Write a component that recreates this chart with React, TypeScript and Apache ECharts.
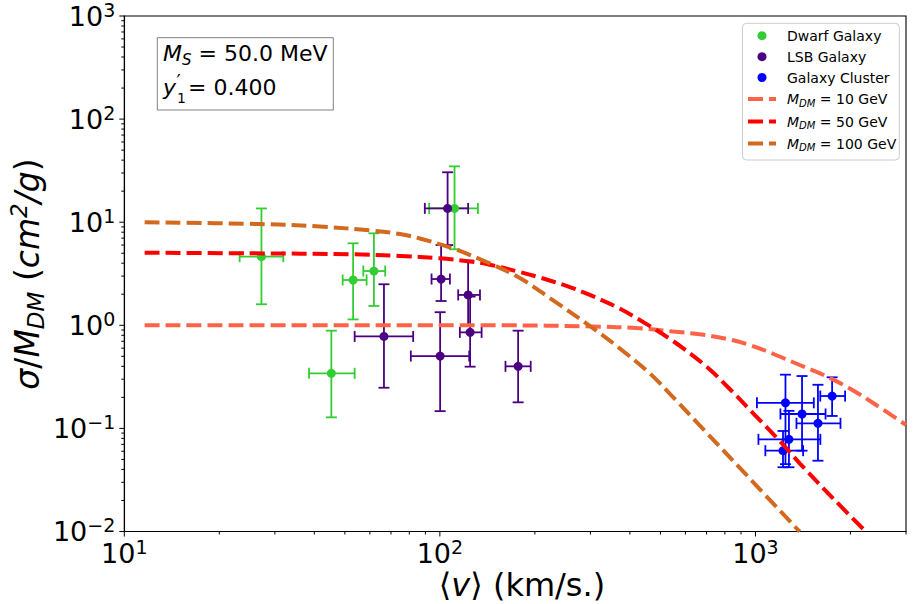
import React, { useEffect, useRef } from "react";
import * as echarts from "echarts";

// ---------- data ----------
const dwarfX = [27.2, 53.1, 61.8, 45.3, 111.3];
const dwarfY = [4.63, 2.75, 3.36, 0.342, 13.6];
const dwarfXLo = [23.2, 49.2, 57.2, 38.5, 92.5];
const dwarfXHi = [31.9, 58.6, 67.1, 53.7, 132];
const dwarfYLo = [1.6, 1.14, 1.54, 0.128, 5.46];
const dwarfYHi = [13.6, 6.24, 7.8, 0.887, 34.8];

const lsbX = [105.8, 100.9, 122.9, 124.7, 66.5, 100.2, 177];
const lsbY = [13.6, 2.81, 1.97, 0.854, 0.78, 0.503, 0.4];
const lsbXLo = [89.6, 94.1, 114.3, 115.7, 53.7, 80.9, 161.4];
const lsbXHi = [122.9, 107.6, 134, 135.6, 82.3, 123.9, 194];
const lsbYLo = [6.0, 1.72, 1.0, 0.397, 0.248, 0.147, 0.179];
const lsbYHi = [30.5, 6.0, 4.24, 1.9, 2.5, 1.34, 0.887];

const clusterX = [1245, 1405, 1578, 1750, 1277, 1223];
const clusterY = [0.177, 0.138, 0.112, 0.206, 0.0783, 0.0608];
const clusterXLo = [1011, 1200, 1349, 1605, 1022, 1075];
const clusterXHi = [1531, 1668, 1860, 1924, 1606, 1416];
const clusterYLo = [0.045, 0.0608, 0.0486, 0.132, 0.042, 0.042];
const clusterYHi = [0.332, 0.322, 0.265, 0.313, 0.148, 0.0944];

const m10X = [11.6, 100, 155, 305, 430, 547, 666, 800, 959, 1151, 1381, 1658, 1990, 2387, 3000];
const m10Y = [1.0, 1.0, 1.0, 0.974, 0.935, 0.871, 0.818, 0.745, 0.644, 0.521, 0.412, 0.326, 0.244, 0.1725, 0.108];

const m50X = [11.6, 25.0, 53.0, 74.7, 100, 124.5, 140.6, 179.2, 207.4, 252, 298.7, 363, 430, 548, 700, 829, 982, 1194, 1381, 1761, 2236];
const m50Y = [5.06, 4.99, 4.88, 4.7, 4.47, 4.16, 3.93, 3.29, 2.91, 2.41, 1.97, 1.505, 1.126, 0.704, 0.397, 0.241, 0.141, 0.0755, 0.0459, 0.021, 0.01];

const m100X = [11.6, 26.9, 41.7, 61.4, 74.7, 86.4, 110, 140.6, 179.2, 223, 306, 371.7, 463, 555, 666, 959, 1381];
const m100Y = [10.0, 9.6, 9.08, 8.27, 7.68, 6.95, 5.56, 4.11, 2.88, 1.84, 0.935, 0.596, 0.341, 0.193, 0.1067, 0.0327, 0.00995];

const xMin = 10;
const xMax = 3000;
const yMin = 0.01;
const yMax = 1000;
const xMajorTicks = [10, 100, 1000];
const xMinorTicks = [20, 30, 40, 50, 60, 70, 80, 90, 200, 300, 400, 500, 600, 700, 800, 900, 2000, 3000];
const yMajorTicks = [0.01, 0.1, 1, 10, 100, 1000];
const yDecades = [0.01, 0.1, 1, 10, 100];
const minorMultipliers = [2, 3, 4, 5, 6, 7, 8, 9];

const legendNames = ["Dwarf Galaxy", "LSB Galaxy", "Galaxy Cluster"];
const curveMasses = ["10", "50", "100"];

// ---------- styles ----------
const FONT = "DejaVu Sans";
const C_DWARF = "#32CD32";
const C_LSB = "#4B0082";
const C_CLUSTER = "#0000FF";
const C_M10 = "#FF6347";
const C_M50 = "#FF0000";
const C_M100 = "#D2691E";

const rowsOf = (x: number[], y: number[], xl: number[], xh: number[], yl: number[], yh: number[]) =>
  x.map((v, i) => [v, y[i], xl[i], xh[i], yl[i], yh[i]]);
const pairs = (x: number[], y: number[]) => x.map((v, i) => [v, y[i]]);

const errRender = (color: string) => (params: any, api: any) => {
  const x = api.value(0);
  const y = api.value(1);
  const a = api.coord([api.value(2), y]);
  const b = api.coord([api.value(3), y]);
  const d = api.coord([x, api.value(4)]);
  const e = api.coord([x, api.value(5)]);
  const cap = 5.5;
  const st = { stroke: color, lineWidth: 1.8 };
  const ln = (x1: number, y1: number, x2: number, y2: number) => ({
    type: "line",
    shape: { x1, y1, x2, y2 },
    style: st,
  });
  return {
    type: "group",
    children: [
      ln(a[0], a[1], b[0], b[1]),
      ln(d[0], d[1], e[0], e[1]),
      ln(a[0], a[1] - cap, a[0], a[1] + cap),
      ln(b[0], b[1] - cap, b[0], b[1] + cap),
      ln(d[0] - cap, d[1], d[0] + cap, d[1]),
      ln(e[0] - cap, e[1], e[0] + cap, e[1]),
    ],
  };
};

const supTxt = (e: number) => (e < 0 ? "\u2212" + Math.abs(e) : String(e));
const powFormatter = (v: number) => {
  const l = Math.log10(v);
  const e = Math.round(l);
  if (Math.abs(l - e) > 1e-6) return "";
  return `{b|10}{s|${supTxt(e)}}`;
};
const tickRich = {
  b: { fontSize: 27, lineHeight: 32, fontFamily: FONT, color: "#000" },
  s: { fontSize: 19, lineHeight: 22, verticalAlign: "top", fontFamily: FONT, color: "#000" },
};

export default function App() {
  const ref = useRef<HTMLDivElement>(null);
  useEffect(() => {
    if (!ref.current) return;
    const chart = echarts.init(ref.current, null, { renderer: "svg" });

    const xTickData = [
      ...xMajorTicks.map((v) => [v, yMin, 5]),
      ...xMinorTicks.map((v) => [v, yMin, 3]),
    ];
    const yMinorTicks: number[] = [];
    yDecades.forEach((d) => minorMultipliers.forEach((m) => yMinorTicks.push(d * m)));
    const yTickData = [
      ...yMajorTicks.map((v) => [xMin, v, 5]),
      ...yMinorTicks.map((v) => [xMin, v, 3]),
    ];

    const lineSeries = (name: string, x: number[], y: number[], color: string) => ({
      type: "line",
      name,
      data: pairs(x, y),
      showSymbol: false,
      symbol: "none",
      smooth: 0.35,
      z: 4,
      lineStyle: { color, width: 4, type: [15, 6], cap: "butt" },
    });

    const legendRowsY = [35.7, 56.7, 77.5, 99, 121.5, 143.5];
    const legendColorsDot = [C_DWARF, C_LSB, C_CLUSTER];
    const legendColorsLine = [C_M10, C_M50, C_M100];
    const legendChildren: any[] = [
      {
        type: "rect",
        shape: { x: 742.5, y: 23.3, width: 156.8, height: 136.7, r: 4 },
        style: { fill: "rgba(255,255,255,0.8)", stroke: "#cccccc", lineWidth: 1 },
      },
    ];
    legendNames.forEach((n, i) => {
      legendChildren.push({
        type: "circle",
        shape: { cx: 762, cy: legendRowsY[i], r: 4.5 },
        style: { fill: legendColorsDot[i] },
      });
      legendChildren.push({
        type: "text",
        x: 787,
        y: legendRowsY[i],
        style: { text: n, fontFamily: FONT, fontSize: 14, fill: "#000", verticalAlign: "middle", align: "left" },
      });
    });
    curveMasses.forEach((m, i) => {
      const yy = legendRowsY[3 + i];
      legendChildren.push({
        type: "line",
        shape: { x1: 748, y1: yy, x2: 776, y2: yy },
        style: { stroke: legendColorsLine[i], lineWidth: 4, lineDash: [15, 6] },
      });
      legendChildren.push({
        type: "text",
        x: 787,
        y: yy,
        style: {
          text: `{i|M}{sub|DM}{r| = ${m} GeV}`,
          verticalAlign: "middle",
          align: "left",
          fill: "#000",
          rich: {
            i: { fontFamily: FONT, fontSize: 14, fontStyle: "italic", lineHeight: 18 },
            sub: { fontFamily: FONT, fontSize: 10, fontStyle: "italic", lineHeight: 11, verticalAlign: "bottom" },
            r: { fontFamily: FONT, fontSize: 14, lineHeight: 18 },
          },
        },
      });
    });

    const option: any = {
      animation: false,
      backgroundColor: "#fff",
      grid: {
        left: 124.3,
        right: 8,
        top: 16,
        bottom: 72.5,
        show: true,
        borderColor: "#000",
        borderWidth: 1.1,
        backgroundColor: "transparent",
      },
      xAxis: {
        type: "log",
        logBase: 10,
        min: xMin,
        max: xMax,
        axisLine: { show: true, lineStyle: { color: "#000", width: 1.1 } },
        axisTick: { show: false },
        splitLine: { show: false },
        minorTick: { show: false },
        axisLabel: { margin: 6, formatter: powFormatter, rich: tickRich, showMinLabel: true, showMaxLabel: true },
      },
      yAxis: {
        type: "log",
        logBase: 10,
        min: yMin,
        max: yMax,
        axisLine: { show: true, lineStyle: { color: "#000", width: 1.1 } },
        axisTick: { show: false },
        splitLine: { show: false },
        minorTick: { show: false },
        axisLabel: { margin: 9, formatter: powFormatter, rich: tickRich, showMinLabel: true, showMaxLabel: true },
      },
      series: [
        {
          type: "custom",
          name: "xticks",
          data: xTickData,
          encode: { x: 0, y: 1 },
          clip: false,
          silent: true,
          z: 6,
          renderItem: (params: any, api: any) => {
            const p = api.coord([api.value(0), api.value(1)]);
            return {
              type: "line",
              shape: { x1: p[0], y1: p[1], x2: p[0], y2: p[1] + api.value(2) },
              style: { stroke: "#000", lineWidth: 1 },
            };
          },
        },
        {
          type: "custom",
          name: "yticks",
          data: yTickData,
          encode: { x: 0, y: 1 },
          clip: false,
          silent: true,
          z: 6,
          renderItem: (params: any, api: any) => {
            const p = api.coord([api.value(0), api.value(1)]);
            return {
              type: "line",
              shape: { x1: p[0] - api.value(2), y1: p[1], x2: p[0], y2: p[1] },
              style: { stroke: "#000", lineWidth: 1 },
            };
          },
        },
        {
          type: "custom",
          name: "dwarfErr",
          data: rowsOf(dwarfX, dwarfY, dwarfXLo, dwarfXHi, dwarfYLo, dwarfYHi),
          encode: { x: 0, y: 1 },
          z: 2,
          renderItem: errRender(C_DWARF),
        },
        {
          type: "custom",
          name: "lsbErr",
          data: rowsOf(lsbX, lsbY, lsbXLo, lsbXHi, lsbYLo, lsbYHi),
          encode: { x: 0, y: 1 },
          z: 2,
          renderItem: errRender(C_LSB),
        },
        {
          type: "custom",
          name: "clusterErr",
          data: rowsOf(clusterX, clusterY, clusterXLo, clusterXHi, clusterYLo, clusterYHi),
          encode: { x: 0, y: 1 },
          z: 2,
          renderItem: errRender(C_CLUSTER),
        },
        {
          type: "scatter",
          name: "Dwarf Galaxy",
          data: pairs(dwarfX, dwarfY),
          symbolSize: 9,
          z: 3,
          itemStyle: { color: C_DWARF, opacity: 1 },
        },
        {
          type: "scatter",
          name: "LSB Galaxy",
          data: pairs(lsbX, lsbY),
          symbolSize: 9,
          z: 3,
          itemStyle: { color: C_LSB, opacity: 1 },
        },
        {
          type: "scatter",
          name: "Galaxy Cluster",
          data: pairs(clusterX, clusterY),
          symbolSize: 9,
          z: 3,
          itemStyle: { color: C_CLUSTER, opacity: 1 },
        },
        lineSeries("M_DM = 10 GeV", m10X, m10Y, C_M10),
        lineSeries("M_DM = 50 GeV", m50X, m50Y, C_M50),
        lineSeries("M_DM = 100 GeV", m100X, m100Y, C_M100),
      ],
      graphic: [
        // parameter box
        {
          type: "group",
          z: 20,
          children: [
            {
              type: "rect",
              shape: { x: 157.3, y: 37.7, width: 176, height: 72.3 },
              style: { fill: "#fff", stroke: "#808080", lineWidth: 1 },
            },
            {
              type: "text",
              x: 163,
              y: 53.5,
              style: {
                text: "{i|M}{sub|S}{r| = 50.0 MeV}",
                verticalAlign: "middle",
                align: "left",
                fill: "#000",
                rich: {
                  i: { fontFamily: FONT, fontSize: 22, fontStyle: "italic", lineHeight: 28 },
                  sub: { fontFamily: FONT, fontSize: 15, fontStyle: "italic", lineHeight: 16, verticalAlign: "bottom" },
                  r: { fontFamily: FONT, fontSize: 22, lineHeight: 28 },
                },
              },
            },
            {
              type: "text",
              x: 163,
              y: 87,
              style: { text: "y", fontFamily: FONT, fontSize: 22, fontStyle: "italic", fill: "#000", verticalAlign: "middle", align: "left" },
            },
            {
              type: "text",
              x: 176.5,
              y: 80.5,
              style: { text: "\u2032", fontFamily: FONT, fontSize: 19, fill: "#000", verticalAlign: "middle", align: "left" },
            },
            {
              type: "text",
              x: 177,
              y: 97.5,
              style: { text: "1", fontFamily: FONT, fontSize: 14, fill: "#000", verticalAlign: "middle", align: "left" },
            },
            {
              type: "text",
              x: 188,
              y: 87,
              style: { text: "= 0.400", fontFamily: FONT, fontSize: 22, fill: "#000", verticalAlign: "middle", align: "left" },
            },
          ],
        },
        // legend
        { type: "group", z: 20, children: legendChildren },
        // x axis title
        {
          type: "text",
          x: 522,
          y: 585,
          z: 20,
          style: {
            text: "{r|\u27E8}{i|v}{r|\u27E9 (km/s.)}",
            align: "center",
            verticalAlign: "middle",
            fill: "#000",
            rich: {
              r: { fontFamily: FONT, fontSize: 32, lineHeight: 36 },
              i: { fontFamily: FONT, fontSize: 32, fontStyle: "italic", lineHeight: 36 },
            },
          },
        },
        // y axis title
        {
          type: "text",
          x: 27,
          y: 274,
          rotation: Math.PI / 2,
          z: 20,
          style: {
            text: "{i|\u03C3}{r|/}{i|M}{sub|DM}{r| (}{i|cm}{sup|2}{i|/g}{r|)}",
            align: "center",
            verticalAlign: "middle",
            fill: "#000",
            rich: {
              r: { fontFamily: FONT, fontSize: 33, lineHeight: 40 },
              i: { fontFamily: FONT, fontSize: 33, fontStyle: "italic", lineHeight: 40 },
              sub: { fontFamily: FONT, fontSize: 23, fontStyle: "italic", lineHeight: 25, verticalAlign: "bottom" },
              sup: { fontFamily: FONT, fontSize: 23, fontStyle: "italic", lineHeight: 25, verticalAlign: "top" },
            },
          },
        },
      ],
    };
    chart.setOption(option);
    return () => chart.dispose();
  }, []);
  return <div ref={ref} style={{ position: "absolute", left: 0, top: 0, width: 914, height: 604 }} />;
}
